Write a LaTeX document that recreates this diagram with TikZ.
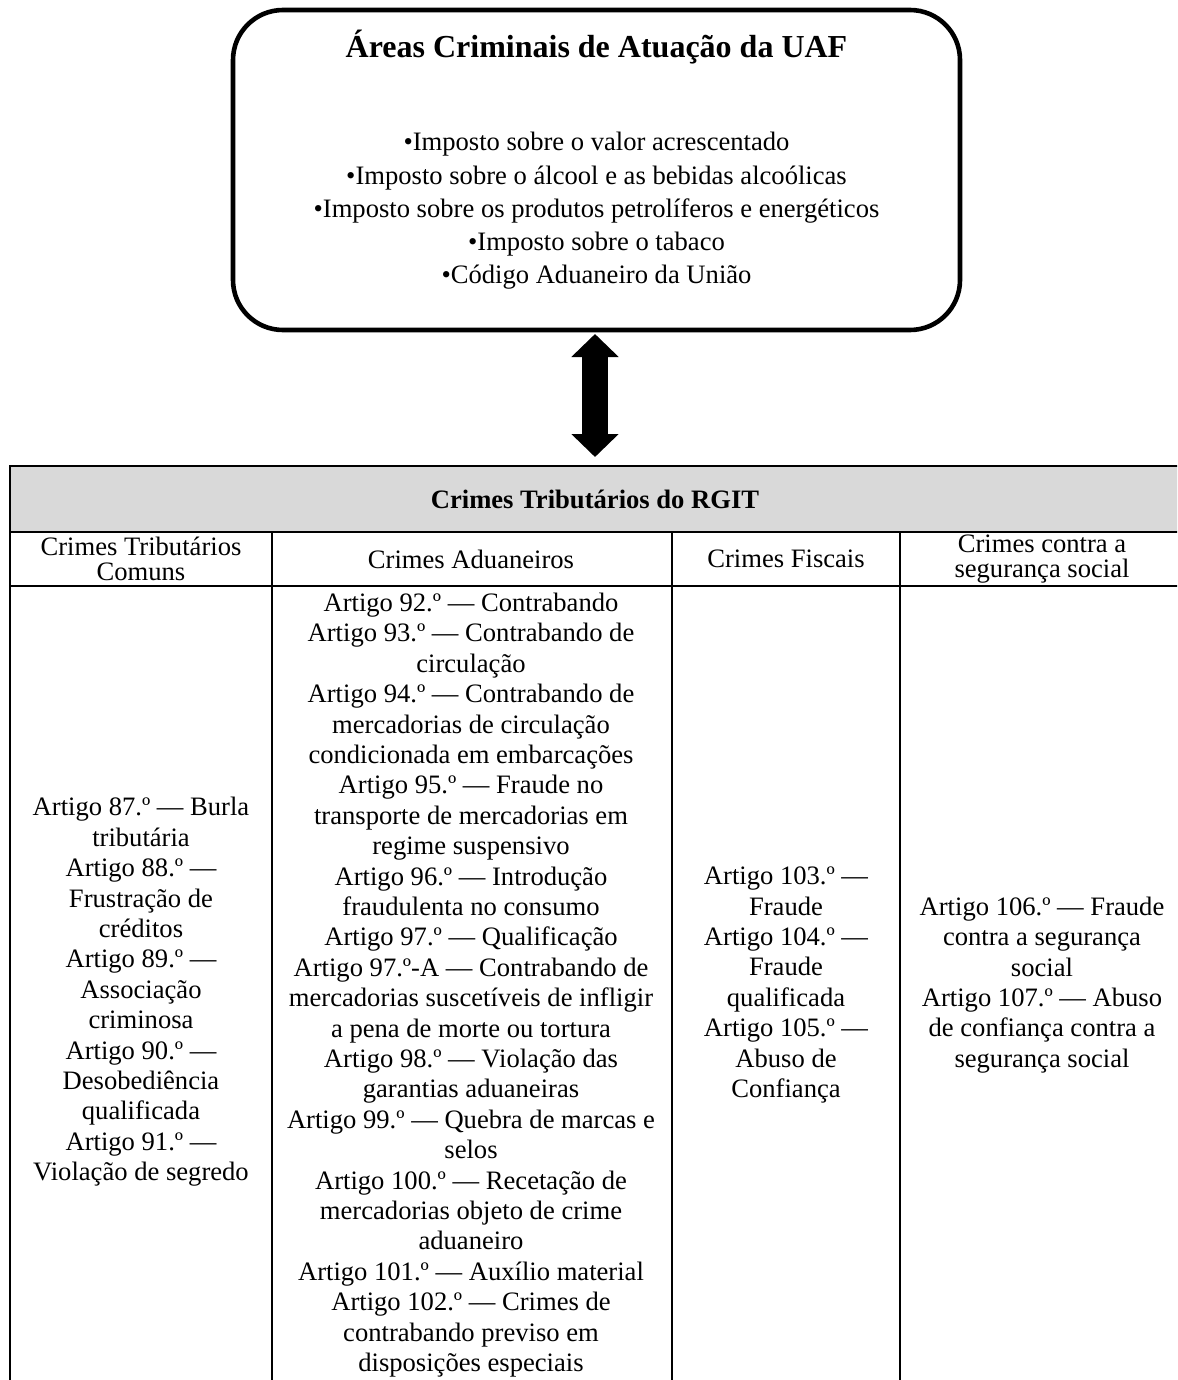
\documentclass[tikz,border=0pt]{standalone}
\usepackage{fontspec}
\setmainfont{Liberation Serif}
\usetikzlibrary{arrows.meta,calc}
\definecolor{hdrgray}{HTML}{D9D9D9}
\begin{document}
\begin{tikzpicture}[x=0.5pt,y=-0.5pt,
  every node/.style={inner sep=0pt, outer sep=0pt},
  body/.style={align=center, font=\fontsize{13.3}{15.2}\selectfont},
  headcell/.style={align=center, font=\fontsize{13.3}{12.8}\selectfont},
  boldtxt/.style={font=\fontsize{13.3}{15.2}\selectfont\bfseries},
  grid/.style={line width=1.35pt},
  blockarrow/.style={line width=13pt,
    {Triangle[length=11.5pt,width=23pt]}-{Triangle[length=11.5pt,width=23pt]}},
]
\useasboundingbox (0,0) rectangle (1177,1380);
\clip (0,0) rectangle (1177,1380);

% top box
\node[draw, line width=2.3pt, rounded corners=25pt, minimum width=363.5pt, minimum height=160pt] (box) at (596.5,170) {};
\node[font=\fontsize{16}{19}\selectfont\bfseries] (title) at (596.5,47) {Áreas Criminais de Atuação da UAF};
\node[align=center, font=\fontsize{13.3}{16.6}\selectfont] (list) at (596.5,211) {•Imposto sobre o valor acrescentado\\
•Imposto sobre o álcool e as bebidas alcoólicas\\
•Imposto sobre os produtos petrolíferos e energéticos\\
•Imposto sobre o tabaco\\
•Código Aduaneiro da União};

% table header band
\node[fill=hdrgray, minimum width=587.5pt, minimum height=33pt, anchor=north west] (hdr) at (10,466) {};
\node[boldtxt] (hdrtxt) at (595,499) {Crimes Tributários do RGIT};

% grid
\draw[grid] (10,1400) -- (10,466) -- (1185,466) -- (1185,1400);
\draw[grid] (10,532) -- (1185,532);
\draw[grid] (10,586) -- (1185,586);
\draw[grid] (272,532) -- (272,1400);
\draw[grid] (672,532) -- (672,1400);
\draw[grid] (900,532) -- (900,1400);

% arrow
\coordinate (ax) at (595,0);
\draw[blockarrow, shorten <=2pt, shorten >=4.5pt] (box.south -| ax) -- (hdr.north -| ax);

% column headers
\node[headcell] (h1) at (141,559) {Crimes Tributários\\Comuns};
\node[headcell] (h2) at (471,559) {Crimes Aduaneiros};
\node[headcell] (h3) at (786,559) {Crimes Fiscais};
\node[headcell] (h4) at (1042,559) {Crimes contra a\\segurança social};

% body
\node[body] (c1) at (141,992) {Artigo 87.º — Burla\\tributária\\Artigo 88.º —\\Frustração de\\créditos\\Artigo 89.º —\\Associação\\criminosa\\Artigo 90.º —\\Desobediência\\qualificada\\Artigo 91.º —\\Violação de segredo};
\node[body] (c2) at (471,985) {Artigo 92.º — Contrabando\\Artigo 93.º — Contrabando de\\circulação\\Artigo 94.º — Contrabando de\\mercadorias de circulação\\condicionada em embarcações\\Artigo 95.º — Fraude no\\transporte de mercadorias em\\regime suspensivo\\Artigo 96.º — Introdução\\fraudulenta no consumo\\Artigo 97.º — Qualificação\\Artigo 97.º-A — Contrabando de\\mercadorias suscetíveis de infligir\\a pena de morte ou tortura\\Artigo 98.º — Violação das\\garantias aduaneiras\\Artigo 99.º — Quebra de marcas e\\selos\\Artigo 100.º — Recetação de\\mercadorias objeto de crime\\aduaneiro\\Artigo 101.º — Auxílio material\\Artigo 102.º — Crimes de\\contrabando previso em\\disposições especiais};
\node[body] (c3) at (786,985) {Artigo 103.º —\\Fraude\\Artigo 104.º —\\Fraude\\qualificada\\Artigo 105.º —\\Abuso de\\Confiança};
\node[body] (c4) at (1042,985) {Artigo 106.º — Fraude\\contra a segurança\\social\\Artigo 107.º — Abuso\\de confiança contra a\\segurança social};
\end{tikzpicture}
\end{document}
